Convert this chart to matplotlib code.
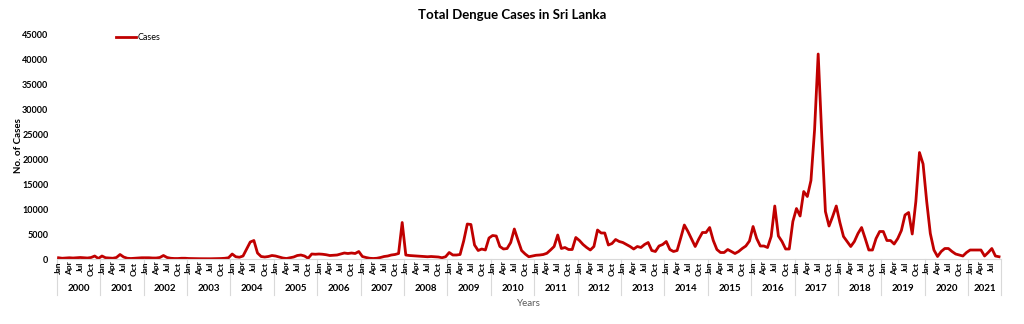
import matplotlib.pyplot as plt
from matplotlib import transforms

# monthly dengue cases, Jan 2000 - Sep 2021
cases_2000 = [250, 150, 200, 250, 200, 250, 300, 250, 200, 300, 600, 100]
cases_2001 = [600, 250, 200, 150, 300, 900, 400, 150, 100, 150, 200, 250]
cases_2002 = [250, 250, 200, 200, 300, 700, 300, 150, 100, 100, 150, 150]
cases_2003 = [100, 80, 60, 60, 50, 50, 50, 60, 80, 100, 150, 250]
cases_2004 = [1000, 450, 350, 600, 2000, 3400, 3700, 1200, 500, 400, 500, 700]
cases_2005 = [600, 400, 200, 100, 250, 400, 700, 800, 600, 150, 1000, 950]
cases_2006 = [1000, 950, 850, 700, 750, 800, 1000, 1200, 1100, 1200, 1100, 1500]
cases_2007 = [500, 300, 150, 100, 150, 300, 500, 600, 800, 900, 1100, 7300]
cases_2008 = [800, 700, 650, 600, 550, 500, 450, 500, 450, 400, 250, 450]
cases_2009 = [1300, 800, 800, 900, 3600, 7000, 6900, 2800, 1700, 2000, 1800, 4200]
cases_2010 = [4700, 4600, 2500, 2000, 2100, 3300, 6000, 3800, 1700, 1000, 450, 600]
cases_2011 = [750, 800, 900, 1150, 1800, 2500, 4800, 2100, 2300, 1900, 1900, 4300]
cases_2012 = [3700, 2900, 2300, 1800, 2500, 5800, 5200, 5200, 2800, 3100, 3900, 3500]
cases_2013 = [3300, 2900, 2500, 2000, 2500, 2300, 2900, 3300, 1700, 1500, 2600, 2900]
cases_2014 = [3500, 1900, 1500, 1700, 4200, 6800, 5500, 4000, 2500, 4000, 5300, 5300]
cases_2015 = [6300, 3700, 1900, 1300, 1300, 1900, 1500, 1100, 1500, 2100, 2600, 3600]
cases_2016 = [6500, 4100, 2600, 2600, 2300, 4500, 10600, 4600, 3500, 2000, 2000, 7500]
cases_2017 = [10100, 8600, 13500, 12500, 15700, 25800, 41000, 24500, 9500, 6600, 8500, 10600]
cases_2018 = [7300, 4500, 3500, 2500, 3500, 5100, 6300, 4100, 1800, 1800, 4100, 5500]
cases_2019 = [5500, 3700, 3700, 3000, 4100, 5700, 8800, 9300, 5000, 11500, 21300, 19000]
cases_2020 = [11500, 5100, 1800, 500, 1500, 2100, 2100, 1500, 1000, 800, 600, 1300]
cases_2021 = [1800, 1800, 1800, 1800, 600, 1300, 2100, 600, 450]

years = list(range(2000, 2022))
by_year = [cases_2000, cases_2001, cases_2002, cases_2003, cases_2004, cases_2005,
           cases_2006, cases_2007, cases_2008, cases_2009, cases_2010, cases_2011,
           cases_2012, cases_2013, cases_2014, cases_2015, cases_2016, cases_2017,
           cases_2018, cases_2019, cases_2020, cases_2021]
month_labels = ['Jan', 'Apr', 'Jul', 'Oct']
month_steps = [0, 3, 6, 9]

plt.rcParams['font.family'] = ['Lato', 'DejaVu Sans']

cases = [v for yr in by_year for v in yr]
idx = list(range(len(cases)))

fig = plt.figure(figsize=(10.24, 3.24), dpi=100)
ax = fig.add_axes([0.0554, 0.2006, 0.9220, 0.6944])

ax.plot(idx, cases, color='#C00000', lw=2.0, label='Cases')
ax.set_xlim(-0.5, len(cases) - 0.5)
ax.set_ylim(0, 45000)
ax.set_yticks(range(0, 45001, 5000))
ax.tick_params(axis='y', length=0, labelsize=6.5, pad=6)
for lab in ax.get_yticklabels():
    lab.set_fontweight('bold')
ax.set_xticks([])
for s in ['top', 'right', 'left']:
    ax.spines[s].set_visible(False)
ax.spines['bottom'].set_color('#d9d9d9')

# two-level category axis (months / years), Excel style
trans = transforms.blended_transform_factory(ax.transData, ax.transAxes)
start = 0
for yr, vals in zip(years, by_year):
    n = len(vals)
    for m, lab in zip(month_steps, month_labels):
        if m < n:
            ax.text(start + m, -0.012, lab, transform=trans, rotation=90,
                    ha='center', va='top', fontsize=6, fontweight='bold')
    ax.text(start + (n - 1) / 2, -0.133, str(yr), transform=trans,
            ha='center', va='center', fontsize=7, fontweight='bold')
    ax.plot([start - 0.5, start - 0.5], [0, -0.16], transform=trans,
            color='#d9d9d9', lw=0.8, clip_on=False)
    start += n
ax.plot([start - 0.5, start - 0.5], [0, -0.16], transform=trans,
        color='#d9d9d9', lw=0.8, clip_on=False)

ax.text(0.5, -0.196, 'Years', transform=ax.transAxes, ha='center', va='center',
        fontsize=7, color='#595959')
fig.text(0.0176, 0.55, 'No. of Cases', rotation=90, ha='center', va='center',
         fontsize=7, fontweight='bold')
fig.text(0.5, 0.953, 'Total Dengue Cases in Sri Lanka', ha='center', va='center',
         fontsize=9.5, fontweight='bold')

ax.legend(loc='center left', bbox_to_anchor=(0.105, 0.885), bbox_transform=fig.transFigure,
          frameon=False, fontsize=6.5, handlelength=2.2, handletextpad=0.2)

fig.savefig('out.png', dpi=100)
